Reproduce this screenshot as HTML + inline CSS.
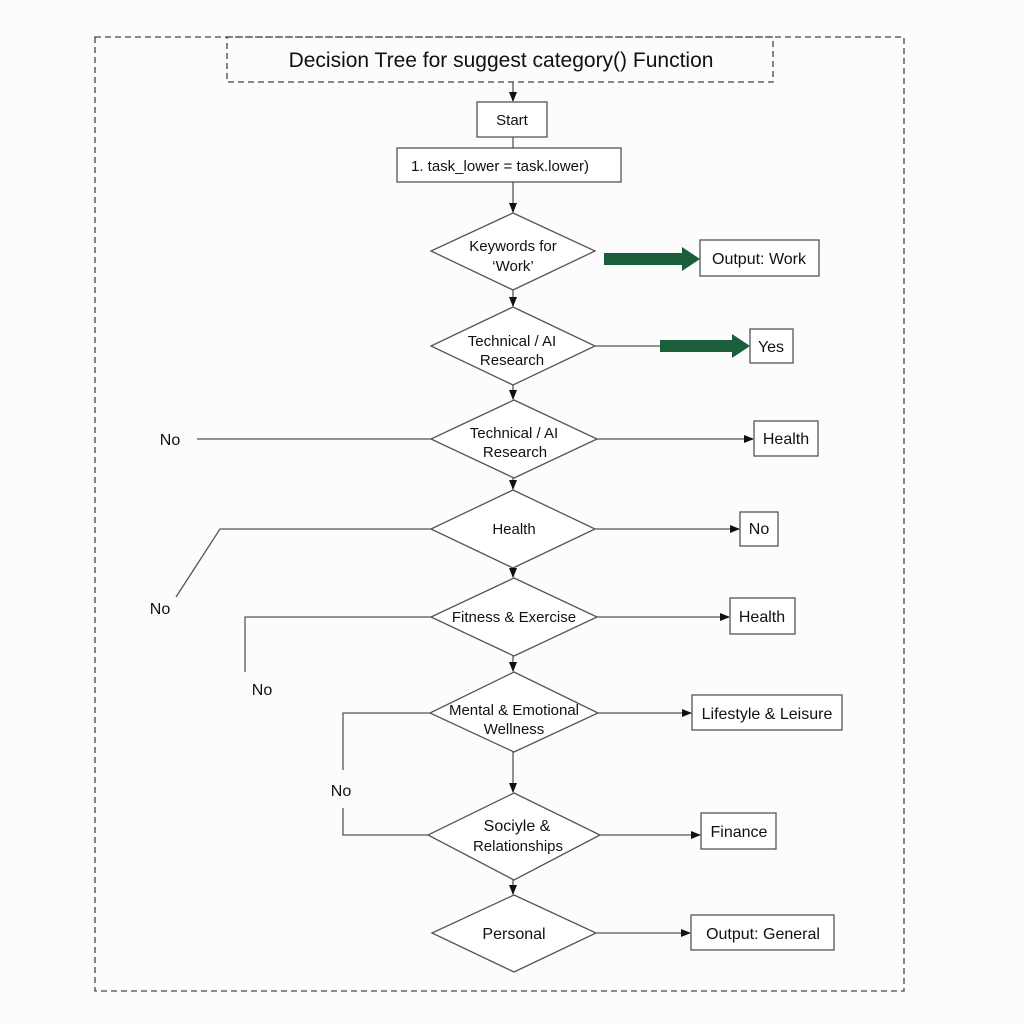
<!DOCTYPE html>
<html><head><meta charset="utf-8"><style>
html,body{margin:0;padding:0;background:#fcfcfc;}
svg{display:block;}
text{font-family:"Liberation Sans",sans-serif;fill:#111;}
</style></head><body>
<svg width="1024" height="1024" viewBox="0 0 1024 1024" xmlns="http://www.w3.org/2000/svg">
<defs>
<marker id="a" markerWidth="10" markerHeight="10" refX="9" refY="5" orient="auto" markerUnits="userSpaceOnUse"><path d="M0,1 L10,5 L0,9 Z" fill="#111"/></marker>
</defs>
<g fill="none" stroke="#444" stroke-width="1.3">
<rect x="95" y="37" width="809" height="954" stroke-dasharray="6,4"/>
<rect x="227" y="37" width="546" height="45" stroke-dasharray="6,4"/>
</g>
<text x="501" y="67" font-size="21" text-anchor="middle">Decision Tree for suggest category() Function</text>
<g stroke="#555" stroke-width="1.3" fill="none">
<line x1="513" y1="82" x2="513" y2="101" marker-end="url(#a)"/>
<rect x="477" y="102" width="70" height="35" fill="#fff"/>
<line x1="513" y1="137" x2="513" y2="148"/>
<rect x="397" y="148" width="224" height="34" fill="#fff"/>
<line x1="513" y1="182" x2="513" y2="212" marker-end="url(#a)"/>
<polygon points="513,213 595,251 513,290 431,251" fill="#fff"/>
<line x1="513" y1="290" x2="513" y2="306" marker-end="url(#a)"/>
<polygon points="513,307 595,346 513,385 431,346" fill="#fff"/>
<line x1="513" y1="385" x2="513" y2="399" marker-end="url(#a)"/>
<polygon points="514,400 597,439 514,478 431,439" fill="#fff"/>
<line x1="513" y1="478" x2="513" y2="489" marker-end="url(#a)"/>
<polygon points="513,490 595,529 513,568 431,529" fill="#fff"/>
<line x1="513" y1="568" x2="513" y2="577" marker-end="url(#a)"/>
<polygon points="514,578 597,617 514,656 431,617" fill="#fff"/>
<line x1="513" y1="656" x2="513" y2="671" marker-end="url(#a)"/>
<polygon points="514,672 598,713 514,752 430,713" fill="#fff"/>
<line x1="513" y1="752" x2="513" y2="792" marker-end="url(#a)"/>
<polygon points="514,793 600,835 514,880 428,835" fill="#fff"/>
<line x1="513" y1="880" x2="513" y2="894" marker-end="url(#a)"/>
<polygon points="514,895 596,933 514,972 432,933" fill="#fff"/>
<line x1="595" y1="346" x2="660" y2="346"/>
<line x1="197" y1="439" x2="431" y2="439"/>
<line x1="597" y1="439" x2="753" y2="439" marker-end="url(#a)"/>
<rect x="754" y="421" width="64" height="35" fill="#fff"/>
<polyline points="431,529 220,529 176,597"/>
<line x1="595" y1="529" x2="739" y2="529" marker-end="url(#a)"/>
<rect x="740" y="512" width="38" height="34" fill="#fff"/>
<polyline points="431,617 245,617 245,672"/>
<line x1="597" y1="617" x2="729" y2="617" marker-end="url(#a)"/>
<rect x="730" y="598" width="65" height="36" fill="#fff"/>
<polyline points="430,713 343,713 343,770"/>
<polyline points="343,808 343,835 428,835"/>
<line x1="598" y1="713" x2="691" y2="713" marker-end="url(#a)"/>
<rect x="692" y="695" width="150" height="35" fill="#fff"/>
<line x1="600" y1="835" x2="700" y2="835" marker-end="url(#a)"/>
<rect x="701" y="813" width="75" height="36" fill="#fff"/>
<line x1="596" y1="933" x2="690" y2="933" marker-end="url(#a)"/>
<rect x="691" y="915" width="143" height="35" fill="#fff"/>
<rect x="700" y="240" width="119" height="36" fill="#fff"/>
<rect x="750" y="329" width="43" height="34" fill="#fff"/>
</g>
<g fill="#1b5e3b">
<polygon points="604,253 682,253 682,247 700,259 682,271 682,265 604,265"/>
<polygon points="660,340 732,340 732,334 750,346 732,358 732,352 660,352"/>
</g>
<g font-size="15" text-anchor="middle">
<text x="512" y="125">Start</text>
<text x="500" y="171">1. task_lower = task.lower)</text>
<text x="513" y="251">Keywords for</text>
<text x="513" y="271">‘Work’</text>
<text x="759" y="264" font-size="16">Output: Work</text>
<text x="512" y="346">Technical / AI</text>
<text x="512" y="365">Research</text>
<text x="771" y="352" font-size="16">Yes</text>
<text x="514" y="438">Technical / AI</text>
<text x="515" y="457">Research</text>
<text x="786" y="444" font-size="16">Health</text>
<text x="170" y="445" font-size="16">No</text>
<text x="514" y="534">Health</text>
<text x="759" y="534" font-size="16">No</text>
<text x="160" y="614" font-size="16">No</text>
<text x="514" y="622">Fitness &amp; Exercise</text>
<text x="762" y="622" font-size="16">Health</text>
<text x="262" y="695" font-size="16">No</text>
<text x="514" y="715">Mental &amp; Emotional</text>
<text x="514" y="734">Wellness</text>
<text x="767" y="719" font-size="16">Lifestyle &amp; Leisure</text>
<text x="341" y="796" font-size="16">No</text>
<text x="517" y="831" font-size="16">Sociyle &amp;</text>
<text x="518" y="851">Relationships</text>
<text x="739" y="837" font-size="16">Finance</text>
<text x="514" y="939" font-size="16">Personal</text>
<text x="763" y="939" font-size="16">Output:  General</text>
</g>
</svg>
</body></html>
